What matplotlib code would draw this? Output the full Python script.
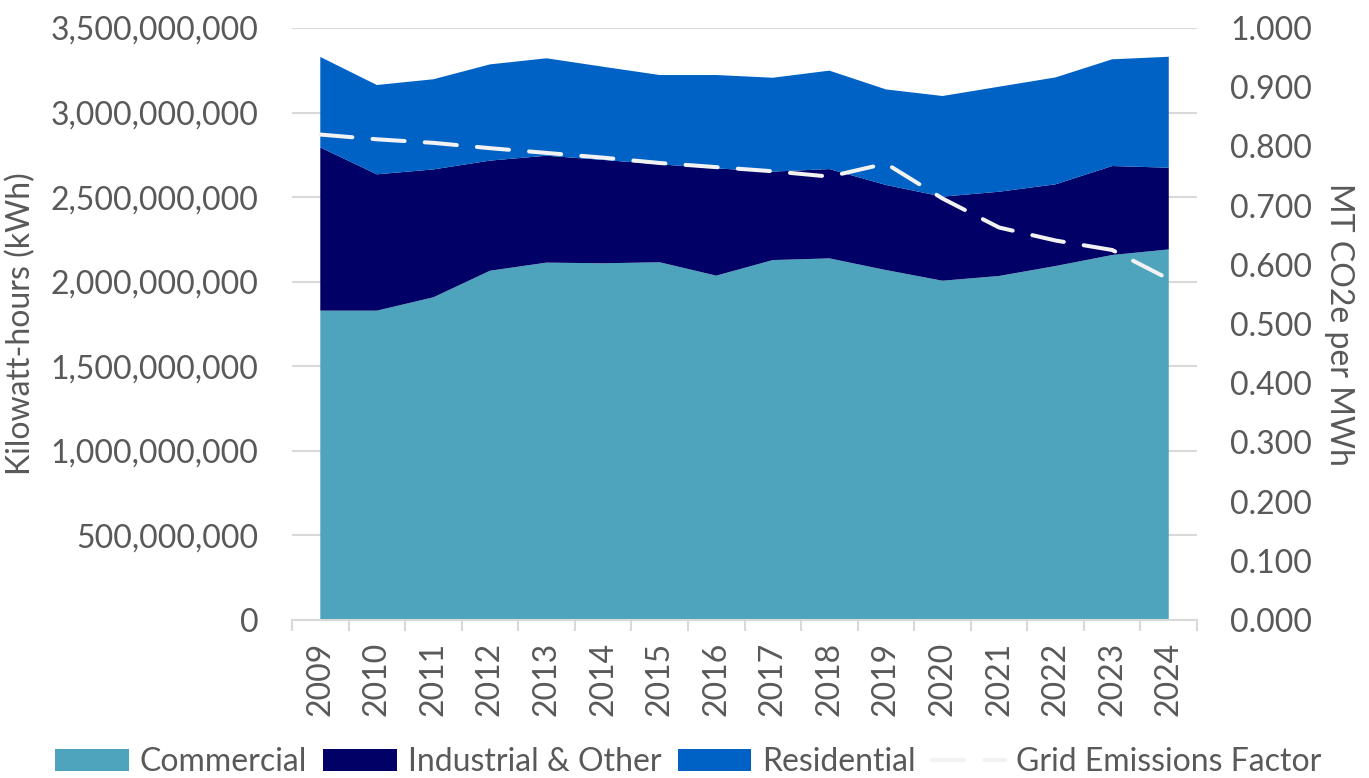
import matplotlib.pyplot as plt
from matplotlib.ticker import FuncFormatter, MultipleLocator
import numpy as np

plt.rcParams['font.family'] = ['Lato', 'DejaVu Sans']

years = ['2009', '2010', '2011', '2012', '2013', '2014', '2015', '2016',
         '2017', '2018', '2019', '2020', '2021', '2022', '2023', '2024']

# kWh by sector
commercial = [1.829e9, 1.829e9, 1.908e9, 2.065e9, 2.113e9, 2.109e9, 2.115e9, 2.036e9,
              2.128e9, 2.138e9, 2.069e9, 2.006e9, 2.034e9, 2.093e9, 2.158e9, 2.191e9]
industrial = [0.965e9, 0.806e9, 0.756e9, 0.651e9, 0.632e9, 0.611e9, 0.579e9, 0.634e9,
              0.523e9, 0.528e9, 0.503e9, 0.497e9, 0.498e9, 0.483e9, 0.526e9, 0.483e9]
residential = [0.535e9, 0.528e9, 0.533e9, 0.569e9, 0.576e9, 0.551e9, 0.528e9, 0.552e9,
               0.555e9, 0.582e9, 0.565e9, 0.595e9, 0.621e9, 0.632e9, 0.631e9, 0.656e9]

# MT CO2e per MWh
grid_factor = [0.820, 0.812, 0.806, 0.797, 0.789, 0.781, 0.772, 0.765,
               0.758, 0.749, 0.771, 0.712, 0.663, 0.641, 0.625, 0.576]

c_comm = '#4FA4BD'
c_ind = '#000066'
c_res = '#0062C4'
txt = '#595959'
grid_col = '#D9D9D9'
fs = 23

x = np.arange(len(years))

fig = plt.figure(figsize=(13.69, 7.78), dpi=100)
ax = fig.add_axes([0.2133, 0.2031, 0.6611, 0.7609])

ax.stackplot(x, commercial, industrial, residential,
             colors=[c_comm, c_ind, c_res],
             labels=['Commercial', 'Industrial & Other', 'Residential'], zorder=2)

ax.set_xlim(-0.5, len(years) - 0.5)
ax.set_ylim(0, 3.5e9)
ax.yaxis.set_major_locator(MultipleLocator(5e8))
ax.yaxis.set_major_formatter(FuncFormatter(lambda v, p: f'{int(v):,}'))
ax.grid(axis='y', color=grid_col, lw=1.5)
ax.set_axisbelow(True)

ax.set_xticks(x)
ax.set_xticklabels(years, rotation=90)
ax.set_xticks(np.arange(-0.5, len(years)), minor=True)
ax.tick_params(axis='x', which='major', length=0, pad=16, labelsize=fs, labelcolor=txt)
ax.tick_params(axis='x', which='minor', length=8, width=1.5, color=grid_col)
ax.tick_params(axis='y', length=0, pad=24, labelsize=fs, labelcolor=txt)

for s in ['top', 'left', 'right']:
    ax.spines[s].set_visible(False)
ax.spines['bottom'].set_color(grid_col)
ax.spines['bottom'].set_linewidth(1.5)

ax.set_ylabel('Kilowatt-hours (kWh)', fontsize=fs, color=txt)
ax.yaxis.set_label_coords(-0.283, 0.5)

ax2 = ax.twinx()
line, = ax2.plot(x, grid_factor, color='#F2F2F2', lw=2.9, label='Grid Emissions Factor',
                 dash_capstyle='round')
line.set_dashes([8, 5])
ax2.set_ylim(0, 1.0)
ax2.yaxis.set_major_locator(MultipleLocator(0.1))
ax2.yaxis.set_major_formatter(FuncFormatter(lambda v, p: f'{v:.3f}'))
ax2.tick_params(axis='y', length=0, pad=24, labelsize=fs, labelcolor=txt)
for s in ax2.spines.values():
    s.set_visible(False)
ax2.set_ylabel('MT CO2e per MWh', fontsize=fs, color=txt, rotation=270, va='bottom')
ax2.yaxis.set_label_coords(1.14, 0.5)

h1, l1 = ax.get_legend_handles_labels()
h2, l2 = ax2.get_legend_handles_labels()
fig.legend(h1 + h2, l1 + l2, loc='center', bbox_to_anchor=(0.503, 0.02), ncol=4,
           frameon=False, fontsize=fs, labelcolor=txt, handlelength=2.3,
           handleheight=0.7, handletextpad=0.35, columnspacing=0.5)

fig.savefig('out.png', dpi=100)
